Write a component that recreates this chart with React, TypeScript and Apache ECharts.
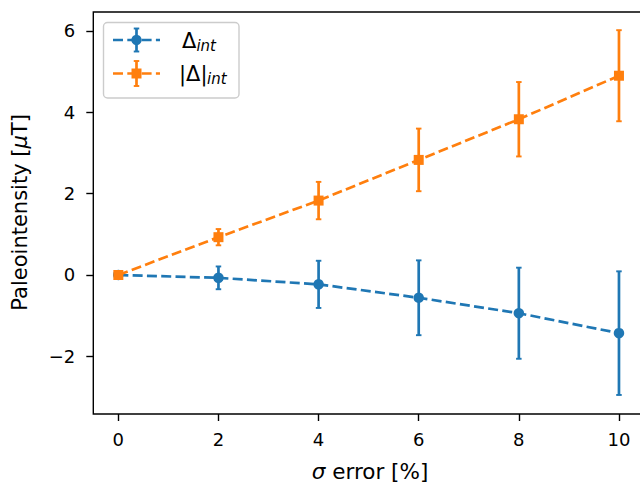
import React, { useEffect, useRef } from "react";
import * as echarts from "echarts";

const xValues = [0, 2, 4, 6, 8, 10];
const deltaValues = [0, -0.07, -0.23, -0.56, -0.94, -1.43];
const deltaErr = [0, 0.28, 0.58, 0.92, 1.12, 1.52];
const absDeltaValues = [0, 0.93, 1.83, 2.83, 3.83, 4.9];
const absDeltaErr = [0, 0.2, 0.46, 0.77, 0.915, 1.12];
const xTicks = [0, 2, 4, 6, 8, 10];
const yTicks = [-2, 0, 2, 4, 6];

const BLUE = "#1f77b4";
const ORANGE = "#ff7f0e";
const FONT = "DejaVu Sans";

function errRender(color: string) {
  return (params: any, api: any) => {
    const x = api.value(0);
    const lo = api.value(1);
    const hi = api.value(2);
    const p1 = api.coord([x, hi]);
    const p2 = api.coord([x, lo]);
    const cw = 5.5;
    return {
      type: "group",
      children: [
        { type: "line", shape: { x1: p1[0], y1: p1[1], x2: p2[0], y2: p2[1] }, style: { stroke: color, lineWidth: 2.7 } },
        { type: "line", shape: { x1: p1[0] - cw / 2, y1: p1[1], x2: p1[0] + cw / 2, y2: p1[1] }, style: { stroke: color, lineWidth: 1.9 } },
        { type: "line", shape: { x1: p2[0] - cw / 2, y1: p2[1], x2: p2[0] + cw / 2, y2: p2[1] }, style: { stroke: color, lineWidth: 1.9 } },
      ],
    };
  };
}

function legendHandle(cy: number, color: string, marker: "circle" | "rect", half: number): any[] {
  const cx = 136.5;
  const cw = 5.5;
  const items: any[] = [
    { type: "line", shape: { x1: 113, y1: cy, x2: 160, y2: cy }, style: { stroke: color, lineWidth: 2.7, lineDash: [10, 4.3] } },
    { type: "line", shape: { x1: cx, y1: cy - half, x2: cx, y2: cy + half }, style: { stroke: color, lineWidth: 2.7 } },
    { type: "line", shape: { x1: cx - cw / 2, y1: cy - half, x2: cx + cw / 2, y2: cy - half }, style: { stroke: color, lineWidth: 1.9 } },
    { type: "line", shape: { x1: cx - cw / 2, y1: cy + half, x2: cx + cw / 2, y2: cy + half }, style: { stroke: color, lineWidth: 1.9 } },
  ];
  if (marker === "circle") {
    items.push({ type: "circle", shape: { cx, cy, r: 5.2 }, style: { fill: color } });
  } else {
    items.push({ type: "rect", shape: { x: cx - 5, y: cy - 5, width: 10, height: 10 }, style: { fill: color } });
  }
  return items;
}

export default function App() {
  const ref = useRef<HTMLDivElement>(null);
  useEffect(() => {
    if (!ref.current) return;
    const chart = echarts.init(ref.current, undefined, { renderer: "svg" });
    const blueErr = xValues.map((x, i) => [x, deltaValues[i] - deltaErr[i], deltaValues[i] + deltaErr[i]]);
    const orangeErr = xValues.map((x, i) => [x, absDeltaValues[i] - absDeltaErr[i], absDeltaValues[i] + absDeltaErr[i]]);
    const option: any = {
      animation: false,
      backgroundColor: "#ffffff",
      grid: {
        left: 93.3,
        top: 12,
        right: -4,
        bottom: 70,
        containLabel: false,
        outerBoundsMode: "none",
        show: true,
        borderColor: "#000000",
        borderWidth: 1.4,
        backgroundColor: "transparent",
        z: 10,
      },
      xAxis: {
        type: "value",
        min: -0.5,
        max: 10.5,
        axisLine: { show: false, onZero: false },
        splitLine: { show: false },
        axisTick: { show: true, length: 7, customValues: xTicks, lineStyle: { color: "#000", width: 1.4 } },
        axisLabel: {
          customValues: xTicks,
          margin: 16,
          fontSize: 18,
          fontFamily: FONT,
          color: "#000",
          hideOverlap: false,
        },
      },
      yAxis: {
        type: "value",
        min: -3.418,
        max: 6.467,
        axisLine: { show: false, onZero: false },
        splitLine: { show: false },
        axisTick: { show: true, length: 7, customValues: yTicks, lineStyle: { color: "#000", width: 1.4 } },
        axisLabel: {
          customValues: yTicks,
          margin: 18,
          fontSize: 18,
          fontFamily: FONT,
          color: "#000",
          formatter: (v: number) => (v < 0 ? "\u2212" + Math.abs(v) : String(v)),
        },
      },
      series: [
        {
          type: "custom",
          name: "Δint err",
          renderItem: errRender(BLUE),
          data: blueErr,
          encode: { x: 0, y: [1, 2] },
          z: 2,
          clip: false,
        },
        {
          type: "line",
          name: "Δint",
          data: xValues.map((x, i) => [x, deltaValues[i]]),
          symbol: "circle",
          symbolSize: 10.5,
          showSymbol: true,
          itemStyle: { color: BLUE },
          lineStyle: { color: BLUE, width: 2.7, type: [10, 4.3] },
          z: 3,
        },
        {
          type: "custom",
          name: "|Δ|int err",
          renderItem: errRender(ORANGE),
          data: orangeErr,
          encode: { x: 0, y: [1, 2] },
          z: 4,
          clip: false,
        },
        {
          type: "line",
          name: "|Δ|int",
          data: xValues.map((x, i) => [x, absDeltaValues[i]]),
          symbol: "rect",
          symbolSize: 10,
          showSymbol: true,
          itemStyle: { color: ORANGE },
          lineStyle: { color: ORANGE, width: 2.7, type: [10, 4.3] },
          z: 5,
        },
      ],
      graphic: [
        {
          type: "text",
          x: 20.4,
          y: 212.4,
          rotation: Math.PI / 2,
          style: {
            text: "{n|Paleointensity [}{i|μ}{n|T]}",
            align: "center",
            verticalAlign: "middle",
            fontSize: 21,
            fontFamily: FONT,
            fill: "#000",
            rich: {
              n: { fontSize: 21, fontFamily: FONT, fill: "#000" },
              i: { fontSize: 21, fontFamily: FONT, fontStyle: "italic", fill: "#000" },
            },
          },
        },
        {
          type: "text",
          x: 370,
          y: 471.7,
          style: {
            text: "{i|σ}{n| error [%]}",
            align: "center",
            verticalAlign: "middle",
            fontSize: 21.5,
            fontFamily: FONT,
            fill: "#000",
            rich: {
              n: { fontSize: 21.5, fontFamily: FONT, fill: "#000" },
              i: { fontSize: 21.5, fontFamily: FONT, fontStyle: "italic", fill: "#000" },
            },
          },
        },
        {
          type: "group",
          z: 100,
          children: [
            {
              type: "rect",
              shape: { x: 103.5, y: 22.5, width: 135.5, height: 75.5, r: 4 },
              style: { fill: "rgba(255,255,255,0.8)", stroke: "#cccccc", lineWidth: 1.4 },
            },
            ...legendHandle(40, BLUE, "circle", 11.5),
            ...legendHandle(73.5, ORANGE, "rect", 12.5),
            {
              type: "text",
              x: 182,
              y: 40.5,
              style: { text: "Δ", fontSize: 21, fontFamily: FONT, fill: "#000", align: "left", verticalAlign: "middle" },
            },
            {
              type: "text",
              x: 196.4,
              y: 46.1,
              style: { text: "int", fontSize: 15, fontFamily: FONT, fontStyle: "italic", fill: "#000", align: "left", verticalAlign: "middle" },
            },
            {
              type: "text",
              x: 179,
              y: 73.5,
              style: { text: "|Δ|", fontSize: 21, fontFamily: FONT, fill: "#000", align: "left", verticalAlign: "middle" },
            },
            {
              type: "text",
              x: 207,
              y: 79.1,
              style: { text: "int", fontSize: 15, fontFamily: FONT, fontStyle: "italic", fill: "#000", align: "left", verticalAlign: "middle" },
            },
          ],
        },
      ],
    };
    chart.setOption(option);
    return () => chart.dispose();
  }, []);
  return (
    <div
      ref={ref}
      style={{ position: "absolute", left: 0, top: 0, width: 640, height: 484 }}
    />
  );
}
